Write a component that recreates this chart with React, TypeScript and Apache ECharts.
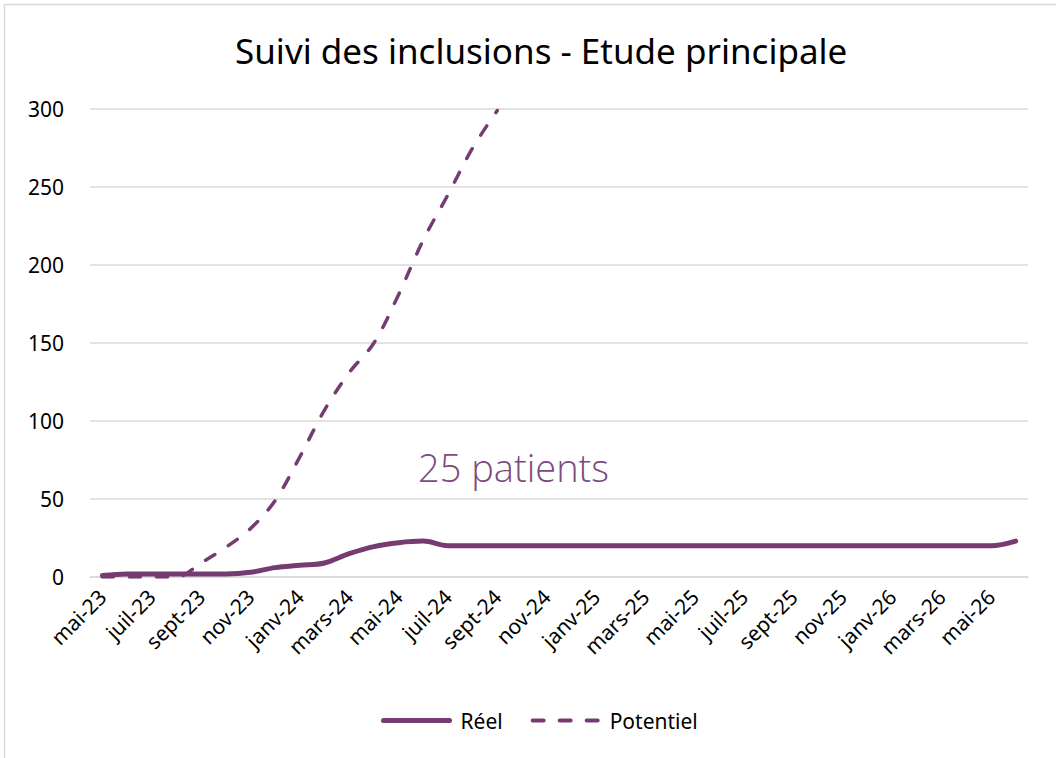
import React, { useEffect, useRef } from "react";
import * as echarts from "echarts";

const categories = [
  "mai-23", "juin-23", "juil-23", "août-23", "sept-23", "oct-23", "nov-23", "déc-23",
  "janv-24", "févr-24", "mars-24", "avr-24", "mai-24", "juin-24", "juil-24", "août-24",
  "sept-24", "oct-24", "nov-24", "déc-24",
  "janv-25", "févr-25", "mars-25", "avr-25", "mai-25", "juin-25", "juil-25", "août-25",
  "sept-25", "oct-25", "nov-25", "déc-25",
  "janv-26", "févr-26", "mars-26", "avr-26", "mai-26", "juin-26",
];

const reel = [
  1, 2, 2, 2, 2, 2, 3, 6, 7.5, 9, 15, 19.5, 22, 23, 20, 20,
  20, 20, 20, 20, 20, 20, 20, 20, 20, 20, 20, 20, 20, 20, 20, 20,
  20, 20, 20, 20, 20, 23,
];

const potentiel = [
  0, 0, 0, 0, 9, 19, 31, 49, 77, 107, 131, 150, 181, 216, 245, 275, 299,
  null, null, null, null, null, null, null, null, null, null, null, null, null,
  null, null, null, null, null, null, null, null,
];

const yTicks = [0, 50, 100, 150, 200, 250, 300];

const TITLE = "Suivi des inclusions - Etude principale";
const ANNOTATION = "25 patients";
const FONT = "'Noto Sans', 'Open Sans', sans-serif";
const PURPLE = "#763B72";

export default function App() {
  const ref = useRef<HTMLDivElement>(null);
  useEffect(() => {
    if (!ref.current) return;
    const chart = echarts.init(ref.current, null, { renderer: "svg" });
    chart.setOption({
      animation: false,
      backgroundColor: "#ffffff",
      textStyle: { fontFamily: FONT },
      title: {
        text: TITLE,
        left: 230,
        top: 28,
        textStyle: { fontFamily: FONT, fontSize: 35, fontWeight: "normal", color: "#000" },
      },
      graphic: [
        {
          type: "rect",
          shape: { x: 4.5, y: 4.5, width: 1200, height: 900 },
          style: { fill: "none", stroke: "#d9d9d9", lineWidth: 1.5 },
          silent: true,
        },
        {
          type: "text",
          left: 418,
          top: 448,
          style: {
            text: ANNOTATION,
            font: `300 38px 'Open Sans', ${FONT}`,
            fill: "#7C4A7E",
          },
        },
      ],
      legend: {
        bottom: 22,
        left: 376,
        itemWidth: 66,
        itemHeight: 14,
        itemGap: 28,
        itemStyle: { opacity: 0 },
        textStyle: { fontFamily: FONT, fontSize: 21, color: "#000", padding: [0, 0, 0, 6] },
        data: [
          {
            name: "Réel",
            itemStyle: { opacity: 0 },
            lineStyle: { color: PURPLE, width: 5, cap: "round" },
          },
          {
            name: "Potentiel",
            itemStyle: { opacity: 0 },
            lineStyle: { color: PURPLE, width: 4, type: [11, 16], cap: "round" },
          },
        ],
      },
      grid: { left: 90, right: 28, top: 109, bottom: 181 },
      xAxis: {
        type: "category",
        data: categories,
        boundaryGap: true,
        axisLine: { lineStyle: { color: "#d9d9d9", width: 1.5 } },
        axisTick: { show: false },
        axisLabel: {
          interval: 1,
          rotate: 45,
          margin: 16,
          fontFamily: FONT,
          fontSize: 21,
          color: "#000",
        },
      },
      yAxis: {
        type: "value",
        min: yTicks[0],
        max: yTicks[yTicks.length - 1],
        interval: 50,
        axisLine: { show: false },
        axisTick: { show: false },
        splitLine: { lineStyle: { color: "#d9d9d9", width: 1.5 } },
        axisLabel: { margin: 26, fontFamily: FONT, fontSize: 21, color: "#000" },
      },
      series: [
        {
          name: "Réel",
          type: "line",
          data: reel,
          smooth: 0.35,
          showSymbol: false,
          symbol: "none",
          lineStyle: { color: PURPLE, width: 5, cap: "round", join: "round" },
          itemStyle: { color: PURPLE },
          z: 3,
        },
        {
          name: "Potentiel",
          type: "line",
          data: potentiel,
          smooth: 0.35,
          showSymbol: false,
          symbol: "none",
          connectNulls: false,
          lineStyle: { color: PURPLE, width: 3.5, type: [11, 16], cap: "round" },
          itemStyle: { color: PURPLE },
          z: 2,
        },
      ],
    });
    return () => chart.dispose();
  }, []);
  return (
    <div
      ref={ref}
      style={{ position: "absolute", left: 0, top: 0, width: 1056, height: 758 }}
    />
  );
}
